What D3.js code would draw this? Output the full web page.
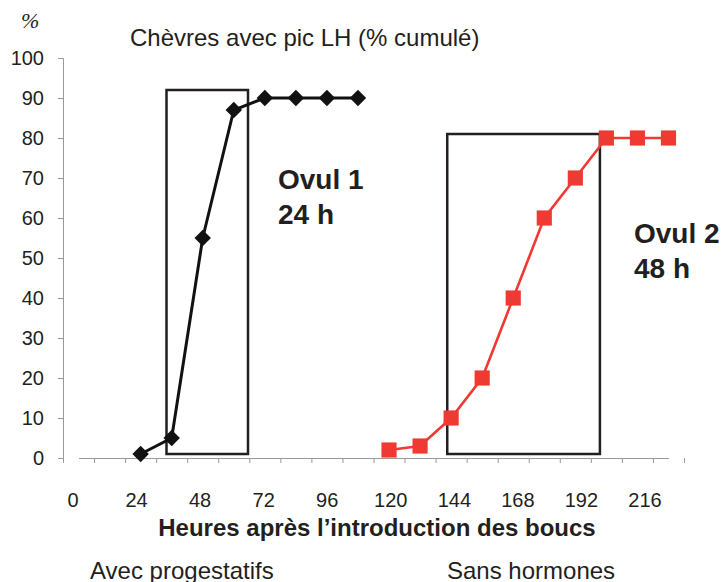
<!DOCTYPE html>
<html>
<head>
<meta charset="utf-8">
<script src="https://cdn.jsdelivr.net/npm/d3@7"></script>
<style>
  body { margin: 0; background: #fff; }
  svg text { font-family: "Liberation Sans", Arial, sans-serif; fill: #231f20; }
</style>
</head>
<body>
<div id="chart"></div>
<script>
// Categories on the x axis (hours, one every 12 h) and the shown tick labels.
const heures = [0, 12, 24, 36, 48, 60, 72, 84, 96, 108, 120, 132, 144, 156, 168, 180, 192, 204, 216, 228];
const tickLabels = [0, 24, 48, 72, 96, 120, 144, 168, 192, 216];
const yTicks = [0, 10, 20, 30, 40, 50, 60, 70, 80, 90, 100];

// Avec progestatifs (black diamonds).
const progHeures = [24, 36, 48, 60, 72, 84, 96, 108];
const progValeurs = [1, 5, 55, 87, 90, 90, 90, 90];

// Sans hormones (red squares).
const sansHeures = [120, 132, 144, 156, 168, 180, 192, 204, 216, 228];
const sansValeurs = [2, 3, 10, 20, 40, 60, 70, 80, 80, 80];

// Ovulation windows: [start h, end h, top %, bottom %].
const fenetres = [
  [34, 65.5, 92, 1],
  [142.5, 201.5, 81, 1]
];

const width = 721, height = 582;
const margin = { top: 58, right: 37, bottom: 124, left: 63 };
const red = "#ee3a33";
const ink = "#231f20";

const svg = d3.select("#chart").append("svg")
  .attr("width", width)
  .attr("height", height);

// Band scale for the categories, linear helper for in-between hours.
const x = d3.scaleBand()
  .domain(heures)
  .range([margin.left, width - margin.right]);
const bw = x.bandwidth();
const xh = d3.scaleLinear()
  .domain([heures[0], heures[heures.length - 1]])
  .range([x(heures[0]) + bw / 2, x(heures[heures.length - 1]) + bw / 2]);

const y = d3.scaleLinear()
  .domain([0, 100])
  .range([height - margin.bottom, margin.top]);

// Label positions do not sit exactly under the bands in the original.
const xLabel = d3.scalePoint()
  .domain(tickLabels)
  .range([73, 645]);

// Y axis.
const yAxis = svg.append("g")
  .attr("transform", `translate(${margin.left},0)`)
  .call(d3.axisLeft(y).tickValues(yTicks).tickSize(5).tickPadding(14));
yAxis.select(".domain").attr("stroke", "#9a9a9a");
yAxis.selectAll(".tick line").attr("stroke", "#9a9a9a");
yAxis.selectAll("text")
  .style("font-size", "20px")
  .attr("fill", ink);

// X axis: ticks on the band boundaries, labels drawn separately.
const bounds = heures.map(h => h - 6).concat([heures[heures.length - 1] + 6]);
const xAxis = svg.append("g")
  .attr("transform", `translate(0,${y(0)})`)
  .call(d3.axisBottom(xh).tickValues(bounds).tickSize(5).tickSizeOuter(0).tickFormat(""));
xAxis.select(".domain").attr("stroke", "#9a9a9a");
xAxis.selectAll(".tick line").attr("stroke", "#9a9a9a");

svg.append("g")
  .selectAll("text")
  .data(tickLabels)
  .enter()
  .append("text")
  .attr("x", d => xLabel(d))
  .attr("y", y(0) + 49)
  .attr("text-anchor", "middle")
  .style("font-size", "20px")
  .text(d => d);

// Ovulation windows.
svg.append("g")
  .selectAll("rect")
  .data(fenetres)
  .enter()
  .append("rect")
  .attr("x", d => xh(d[0]))
  .attr("y", d => y(d[2]))
  .attr("width", d => xh(d[1]) - xh(d[0]))
  .attr("height", d => y(d[3]) - y(d[2]))
  .attr("fill", "none")
  .attr("stroke", ink)
  .attr("stroke-width", 2.5);

// Lines.
const line = d3.line()
  .x(d => xh(d[0]))
  .y(d => y(d[1]));

const prog = progHeures.map((h, i) => [h, progValeurs[i]]);
const sans = sansHeures.map((h, i) => [h, sansValeurs[i]]);

svg.append("path")
  .datum(prog)
  .attr("fill", "none")
  .attr("stroke", "#111")
  .attr("stroke-width", 3)
  .attr("d", line);

svg.append("path")
  .datum(sans)
  .attr("fill", "none")
  .attr("stroke", red)
  .attr("stroke-width", 2.6)
  .attr("d", line);

// Markers.
const square = d3.symbol().type(d3.symbolSquare);

svg.append("g")
  .selectAll("path")
  .data(prog)
  .enter()
  .append("path")
  .attr("transform", d => `translate(${xh(d[0])},${y(d[1])}) rotate(45)`)
  .attr("d", square.size(135)())
  .attr("fill", "#111");

svg.append("g")
  .selectAll("path")
  .data(sans)
  .enter()
  .append("path")
  .attr("transform", d => `translate(${xh(d[0])},${y(d[1])})`)
  .attr("d", square.size(230)())
  .attr("fill", red);

// Texts.
svg.append("text")
  .attr("x", 21)
  .attr("y", 28)
  .style("font-family", "'Liberation Serif', serif")
  .style("font-style", "italic")
  .style("font-size", "22px")
  .text("%");

svg.append("text")
  .attr("x", 130)
  .attr("y", 46)
  .style("font-size", "24px")
  .text("Chèvres avec pic LH (% cumulé)");

svg.append("text")
  .attr("x", 278)
  .attr("y", 189)
  .style("font-size", "28px")
  .style("font-weight", "bold")
  .text("Ovul 1");
svg.append("text")
  .attr("x", 278)
  .attr("y", 224)
  .style("font-size", "28px")
  .style("font-weight", "bold")
  .text("24 h");

svg.append("text")
  .attr("x", 634)
  .attr("y", 243)
  .style("font-size", "28px")
  .style("font-weight", "bold")
  .attr("fill", red)
  .text("Ovul 2");
svg.append("text")
  .attr("x", 634)
  .attr("y", 278)
  .style("font-size", "28px")
  .style("font-weight", "bold")
  .attr("fill", red)
  .text("48 h");

svg.append("text")
  .attr("x", 377)
  .attr("y", 536)
  .attr("text-anchor", "middle")
  .style("font-size", "24px")
  .style("font-weight", "bold")
  .text("Heures après l’introduction des boucs");

svg.append("text")
  .attr("x", 90)
  .attr("y", 579)
  .style("font-size", "24px")
  .text("Avec progestatifs");

svg.append("text")
  .attr("x", 447)
  .attr("y", 579)
  .style("font-size", "24px")
  .attr("fill", red)
  .text("Sans hormones");
</script>
</body>
</html>
